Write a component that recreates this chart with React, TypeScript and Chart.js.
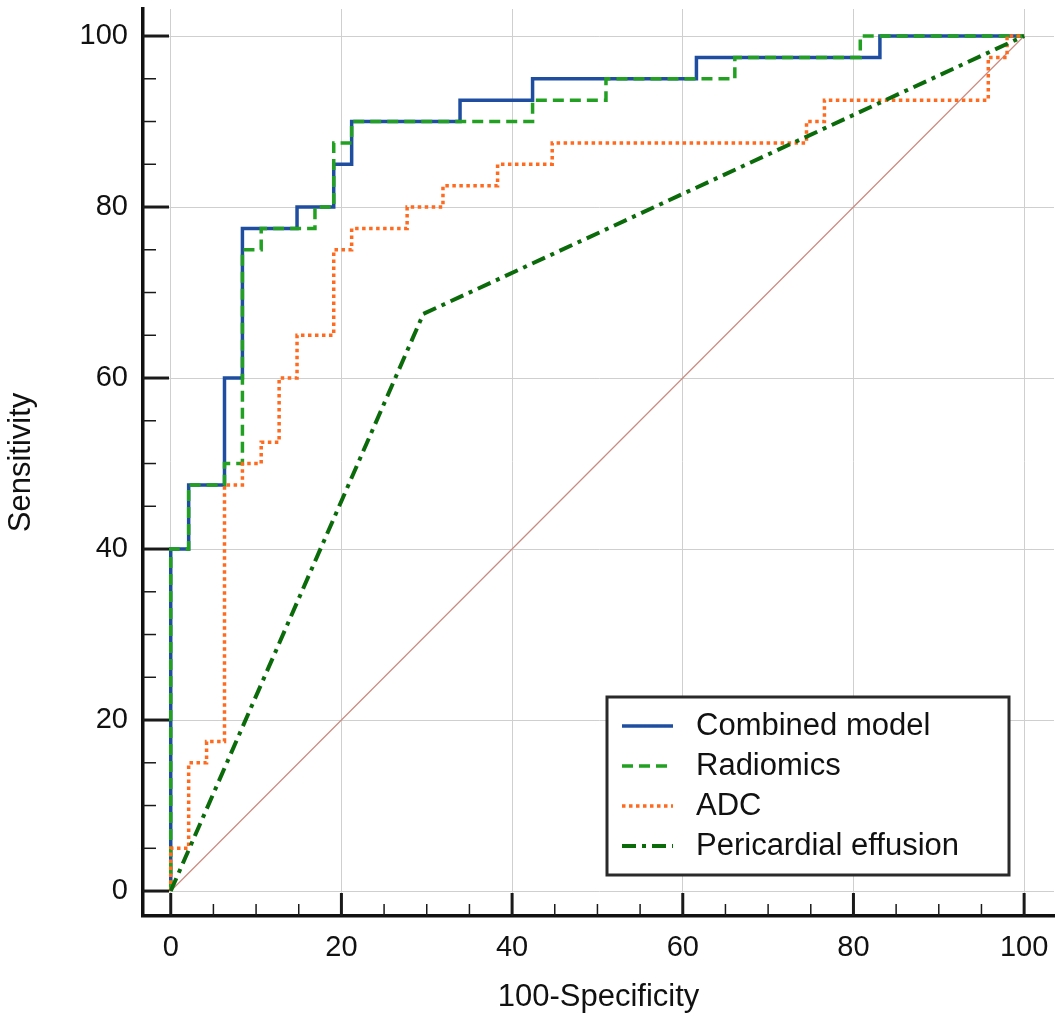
import { useEffect, useRef } from "react";
import { Chart, registerables } from "chart.js";

Chart.register(...registerables);

const seriesNames = ["Combined model", "Radiomics", "ADC", "Pericardial effusion"];

// ROC points (100-Specificity, Sensitivity), drawn as steps: across, then up
const combinedFpr = [0, 0, 2.1, 6.3, 8.4, 14.8, 19.1, 21.2, 33.9, 42.4, 61.6, 83.1, 100];
const combinedSens = [0, 40, 47.5, 60, 77.5, 80, 85, 90, 92.5, 95, 97.5, 100, 100];

const radiomicsFpr = [0, 0, 2.1, 6.3, 8.4, 10.6, 16.9, 19.1, 21.2, 42.4, 51.0, 66.1, 80.8, 100];
const radiomicsSens = [0, 40, 47.5, 50, 75, 77.5, 80, 87.5, 90, 92.5, 95, 97.5, 100, 100];

const adcFpr = [0, 0, 2.1, 4.2, 6.3, 8.4, 10.6, 12.7, 14.8, 19.1, 21.2, 27.7, 31.9, 38.3, 44.7, 74.5, 76.6, 95.8, 98.0, 100];
const adcSens = [0, 5, 15, 17.5, 47.5, 50, 52.5, 60, 65, 75, 77.5, 80, 82.5, 85, 87.5, 90, 92.5, 97.5, 100, 100];

const effusionFpr = [0, 29.6, 100];
const effusionSens = [0, 67.5, 100];

const diagonalX = [0, 100];
const diagonalY = [0, 100];

const tickValues = [0, 20, 40, 60, 80, 100];
const minorTickValues = [5, 10, 15, 25, 30, 35, 45, 50, 55, 65, 70, 75, 85, 90, 95];

const FONT = "'Liberation Sans', Arial, sans-serif";

const zip = (xs: number[], ys: number[]) => xs.map((x, i) => ({ x, y: ys[i] }));

const fixTicks = (scale: any) => {
  scale.ticks = tickValues.map((v) => ({ value: v }));
};

const axisFrame = {
  id: "axisFrame",
  beforeDatasetsDraw(chart: any) {
    const { ctx, chartArea, scales } = chart;
    const { x, y } = scales;
    ctx.save();
    ctx.strokeStyle = "#1a1a1a";
    const mark = (v: number, major: boolean) => {
      ctx.lineWidth = major ? 3 : 1.5;
      const px = x.getPixelForValue(v);
      ctx.beginPath();
      ctx.moveTo(px, chartArea.bottom);
      ctx.lineTo(px, chartArea.bottom - (major ? 23 : 12));
      ctx.stroke();
      const py = y.getPixelForValue(v);
      ctx.beginPath();
      ctx.moveTo(chartArea.left, py);
      ctx.lineTo(chartArea.left + (major ? 26 : 13), py);
      ctx.stroke();
    };
    tickValues.forEach((v) => mark(v, true));
    minorTickValues.forEach((v) => mark(v, false));
    ctx.restore();
  },
  afterDraw(chart: any) {
    const { ctx } = chart;
    const box = { left: 607, top: 697, right: 1009, bottom: 875 };
    ctx.save();
    ctx.fillStyle = "#fff";
    ctx.fillRect(box.left, box.top, box.right - box.left, box.bottom - box.top);
    ctx.lineWidth = 3;
    ctx.strokeStyle = "#2a2a2a";
    ctx.strokeRect(box.left, box.top, box.right - box.left, box.bottom - box.top);
    ctx.font = `31px ${FONT}`;
    ctx.textBaseline = "middle";
    ctx.textAlign = "left";
    seriesNames.forEach((name, i) => {
      const ds = chart.data.datasets[i];
      const yy = 726 + i * 40;
      ctx.beginPath();
      ctx.lineWidth = ds.borderWidth;
      ctx.strokeStyle = ds.borderColor;
      ctx.setLineDash(ds.borderDash || []);
      ctx.moveTo(622, yy);
      ctx.lineTo(673, yy);
      ctx.stroke();
      ctx.setLineDash([]);
      ctx.fillStyle = "#111";
      ctx.fillText(name, 696, yy);
    });
    ctx.restore();
  },
};

export default function App() {
  const canvasRef = useRef<HTMLCanvasElement | null>(null);

  useEffect(() => {
    if (!canvasRef.current) return;
    const chart = new Chart(canvasRef.current, {
      type: "line",
      data: {
        datasets: [
          {
            label: seriesNames[0],
            data: zip(combinedFpr, combinedSens),
            borderColor: "#1f4ea1",
            borderWidth: 3.5,
            stepped: true,
            pointRadius: 0,
            order: 4,
          },
          {
            label: seriesNames[1],
            data: zip(radiomicsFpr, radiomicsSens),
            borderColor: "#22a022",
            borderWidth: 3.5,
            borderDash: [11, 6],
            stepped: true,
            pointRadius: 0,
            order: 3,
          },
          {
            label: seriesNames[2],
            data: zip(adcFpr, adcSens),
            borderColor: "#ff6a1f",
            borderWidth: 3.5,
            borderDash: [3.5, 3.5],
            stepped: true,
            pointRadius: 0,
            order: 2,
          },
          {
            label: seriesNames[3],
            data: zip(effusionFpr, effusionSens),
            borderColor: "#0b6b0b",
            borderWidth: 4,
            borderDash: [14, 6, 4, 6],
            pointRadius: 0,
            order: 1,
          },
          {
            label: "Reference",
            data: zip(diagonalX, diagonalY),
            borderColor: "#c98b80",
            borderWidth: 1.2,
            pointRadius: 0,
            order: 5,
          },
        ],
      },
      options: {
        animation: false,
        responsive: true,
        maintainAspectRatio: false,
        layout: { padding: { top: 9, right: 9, left: 0, bottom: 0 } },
        plugins: { legend: { display: false }, tooltip: { enabled: false } },
        scales: {
          x: {
            type: "linear",
            min: -3.25,
            max: 103.5,
            afterBuildTicks: fixTicks,
            afterFit: (s: any) => {
              s.height = 107;
              s.paddingLeft = 0;
              s.paddingRight = 0;
            },
            grid: { color: "#cfcfcf", lineWidth: 1, drawTicks: false },
            border: { display: true, color: "#111", width: 3.5 },
            ticks: { font: { family: FONT, size: 29 }, color: "#111", padding: 15, maxRotation: 0 },
            title: {
              display: true,
              text: "100-Specificity",
              color: "#111",
              font: { family: FONT, size: 31 },
              padding: { top: 0, bottom: 7 },
            },
          },
          y: {
            type: "linear",
            min: -2.92,
            max: 103.16,
            afterBuildTicks: fixTicks,
            afterFit: (s: any) => {
              s.width = 143;
              s.paddingTop = 0;
              s.paddingBottom = 0;
            },
            grid: { color: "#cfcfcf", lineWidth: 1, drawTicks: false },
            border: { display: true, color: "#111", width: 3.5 },
            ticks: { font: { family: FONT, size: 29 }, color: "#111", padding: 15 },
            title: {
              display: true,
              text: "Sensitivity",
              color: "#111",
              font: { family: FONT, size: 31 },
              padding: { top: 3, bottom: 0 },
            },
          },
        },
      },
      plugins: [axisFrame],
    });
    return () => chart.destroy();
  }, []);

  return (
    <div style={{ position: "absolute", left: 0, top: 0, width: 1063, height: 1023, background: "#fff" }}>
      <canvas ref={canvasRef} />
    </div>
  );
}
